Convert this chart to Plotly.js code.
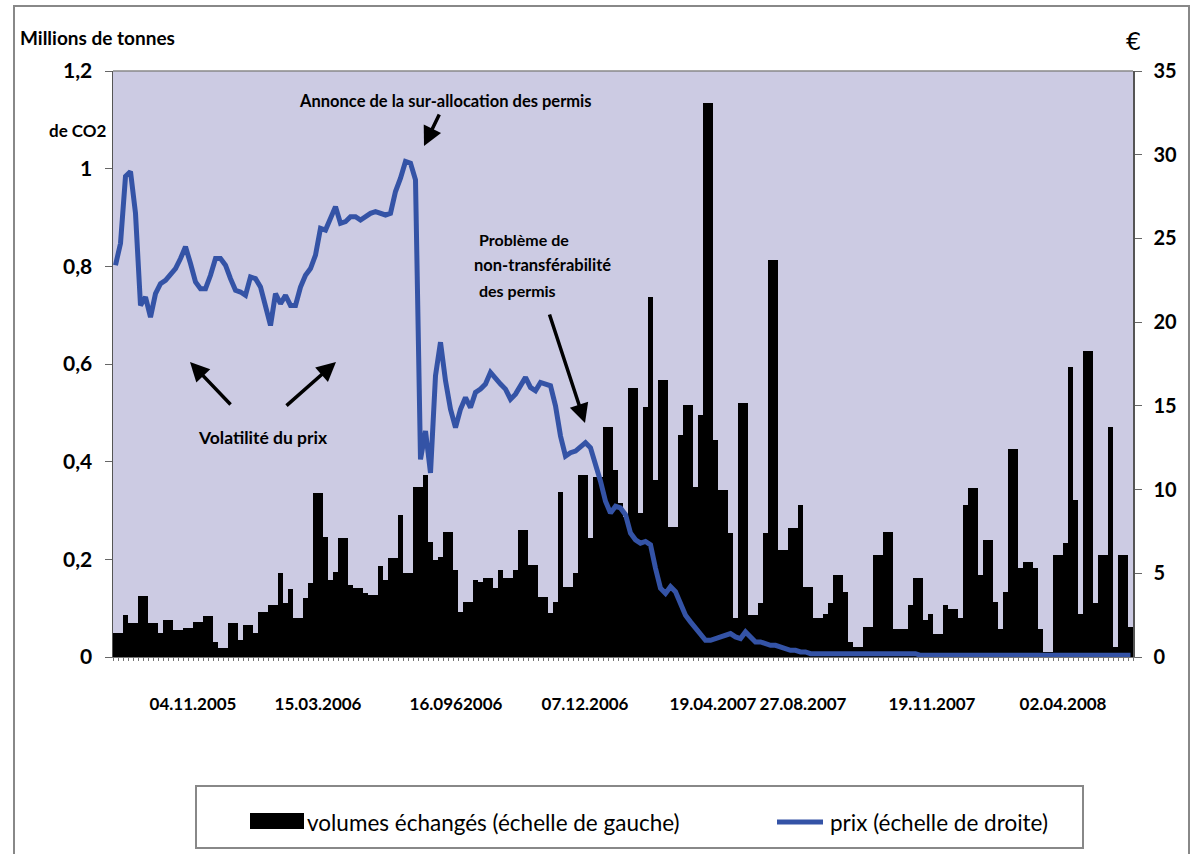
<!DOCTYPE html>
<html>
<head>
<meta charset="utf-8">
<script src="https://cdn.plot.ly/plotly-3.0.1.min.js"></script>
<style>
html,body{margin:0;padding:0;background:#fff;}
#chart{width:1191px;height:854px;}
</style>
</head>
<body>
<div id="chart"></div>
<script>
// Volumes échangés (millions de tonnes de CO2), one bar per period
const volumes = [
0.049,0.049,0.086,0.070,0.070,0.125,0.125,0.070,0.070,0.049,
0.076,0.076,0.055,0.055,0.059,0.059,0.072,0.072,0.084,0.084,
0.031,0.018,0.018,0.070,0.070,0.035,0.066,0.066,0.049,0.092,
0.092,0.106,0.106,0.172,0.110,0.139,0.080,0.080,0.120,0.152,
0.336,0.336,0.246,0.158,0.174,0.244,0.244,0.147,0.141,0.141,
0.131,0.127,0.127,0.186,0.158,0.203,0.203,0.290,0.172,0.172,
0.348,0.348,0.373,0.236,0.199,0.205,0.256,0.256,0.178,0.092,
0.113,0.113,0.158,0.154,0.162,0.162,0.141,0.178,0.162,0.162,
0.178,0.260,0.260,0.188,0.188,0.123,0.123,0.090,0.113,0.338,
0.143,0.143,0.172,0.373,0.373,0.244,0.369,0.369,0.471,0.471,
0.383,0.315,0.287,0.551,0.551,0.295,0.512,0.737,0.362,0.567,
0.567,0.266,0.266,0.455,0.516,0.516,0.348,0.496,1.135,1.135,
0.444,0.342,0.342,0.254,0.080,0.520,0.520,0.086,0.086,0.110,
0.254,0.813,0.813,0.219,0.219,0.264,0.264,0.312,0.144,0.144,
0.079,0.079,0.089,0.110,0.168,0.168,0.134,0.031,0.020,0.020,
0.062,0.062,0.209,0.209,0.257,0.257,0.058,0.058,0.058,0.106,
0.161,0.161,0.075,0.089,0.048,0.048,0.106,0.099,0.099,0.079,
0.312,0.346,0.346,0.168,0.240,0.240,0.113,0.058,0.134,0.425,
0.425,0.182,0.195,0.195,0.182,0.058,0.010,0.010,0.209,0.209,
0.233,0.593,0.322,0.089,0.627,0.627,0.110,0.209,0.209,0.470,
0.020,0.209,0.209,0.062
];

// Prix (€), same periods
const prices = [
23.4,24.7,28.7,29.0,26.5,21.0,21.5,20.3,21.7,22.3,
22.5,22.9,23.2,23.8,24.5,23.5,22.4,22.0,22.0,22.8,
23.8,23.8,23.4,22.6,21.9,21.8,21.6,22.7,22.6,22.1,
20.8,19.8,21.7,21.1,21.6,21.0,21.0,22.1,22.8,23.2,
24.0,25.6,25.5,26.3,26.9,25.9,26.0,26.3,26.3,26.1,
26.3,26.5,26.6,26.5,26.4,26.5,27.8,28.6,29.6,29.5,
28.5,11.8,13.5,11.0,16.8,18.8,16.5,14.8,13.7,14.8,
15.5,14.9,15.8,16.0,16.3,17.0,16.6,16.3,16.0,15.4,
15.7,16.2,16.7,16.1,15.9,16.4,16.3,16.2,15.0,13.2,
12.0,12.2,12.3,12.6,12.8,12.5,11.6,10.5,9.3,8.6,
9.0,8.9,8.5,7.4,7.0,6.8,6.9,6.7,5.3,4.1,
3.8,4.2,3.9,3.1,2.5,2.1,1.7,1.4,1.0,1.0,
1.1,1.2,1.3,1.4,1.2,1.1,1.5,1.2,0.9,0.9,
0.8,0.7,0.7,0.6,0.5,0.4,0.4,0.3,0.3,0.2,
0.2,0.2,0.2,0.2,0.2,0.2,0.2,0.2,0.2,0.2,
0.2,0.2,0.2,0.2,0.2,0.2,0.2,0.2,0.2,0.2,
0.2,0.1,0.1,0.1,0.1,0.1,0.1,0.1,0.1,0.1,
0.1,0.1,0.1,0.1,0.1,0.1,0.1,0.1,0.1,0.1,
0.1,0.1,0.1,0.1,0.1,0.1,0.1,0.1,0.1,0.1,
0.1,0.1,0.1,0.1,0.1,0.1,0.1,0.1,0.1,0.1,
0.1,0.1,0.1,0.1
];

// Date labels along the time axis (period index where each label sits)
const dateLabels = ["04.11.2005","15.03.2006","16.0962006","07.12.2006","19.04.2007","27.08.2007","19.11.2007","02.04.2008"];
const datePositions = [15.5, 40.5, 68.1, 93.9, 119.5, 137.5, 163.3, 189.5];

const leftTicks = [0, 0.2, 0.4, 0.6, 0.8, 1, 1.2];
const leftTickText = ["0", "0,2", "0,4", "0,6", "0,8", "1", "1,2"];
const rightTicks = [0, 5, 10, 15, 20, 25, 30, 35];

const periods = volumes.map((_, i) => i);

const FONT = "Lato, 'Liberation Sans', sans-serif";
const BLUE = "#3453a6";

const traces = [
  {
    type: "bar", x: periods, y: volumes, name: "volumes échangés (échelle de gauche)",
    marker: {color: "#000", line: {width: 0}}, yaxis: "y", hoverinfo: "skip"
  },
  {
    type: "scatter", mode: "lines", x: periods, y: prices, name: "prix (échelle de droite)",
    line: {color: BLUE, width: 5}, yaxis: "y2", hoverinfo: "skip"
  }
];

const W = 1020, H = 586, L = 113, T = 71;
const px = v => (v - L) / W;
const py = v => (T + H - v) / H;

function txt(text, x, y, size, opts) {
  return Object.assign({
    text: text, xref: "paper", yref: "paper", x: px(x), y: py(y),
    showarrow: false, font: {family: FONT, size: size, color: "#000", weight: 700},
    xanchor: "center", yanchor: "middle"
  }, opts || {});
}
function arrow(tailX, tailY, tipX, tipY) {
  return {
    text: "", xref: "paper", yref: "paper", x: px(tipX), y: py(tipY),
    ax: tailX - tipX, ay: tailY - tipY, showarrow: true,
    arrowhead: 2, arrowsize: 1.1, arrowwidth: 3.5, arrowcolor: "#000"
  };
}

const layout = {
  width: 1191, height: 854,
  margin: {l: L, r: 1191 - L - W, t: T, b: 854 - T - H, pad: 0},
  paper_bgcolor: "#fff", plot_bgcolor: "#cccbe3",
  showlegend: false, bargap: 0,
  xaxis: {
    range: [-0.5, volumes.length - 0.5], tickmode: "array",
    tickvals: datePositions, ticktext: dateLabels, ticks: "",
    ticklabelstandoff: 32,
    tickfont: {family: FONT, size: 17, color: "#000", weight: 700},
    showgrid: false, zeroline: false, showline: true, linecolor: "#777", linewidth: 1,
    minor: {tickmode: "linear", tick0: -0.5, dtick: 1, ticks: "outside", ticklen: 3, tickcolor: "#777", tickwidth: 1, showgrid: false},
    fixedrange: true
  },
  yaxis: {
    range: [0, 1.2], tickmode: "array", tickvals: leftTicks, ticktext: leftTickText,
    ticks: "outside", ticklen: 7, tickcolor: "#666", showgrid: false, zeroline: false,
    showline: true, linecolor: "#555", linewidth: 1.5,
    tickfont: {family: FONT, size: 21, color: "#000", weight: 700}, ticklabelstandoff: 8,
    fixedrange: true
  },
  yaxis2: {
    range: [0, 35], tickmode: "array", tickvals: rightTicks, overlaying: "y", side: "right",
    ticks: "outside", ticklen: 7, tickcolor: "#666", showgrid: false, zeroline: false,
    showline: true, linecolor: "#555", linewidth: 1.5,
    tickfont: {family: FONT, size: 20, color: "#000", weight: 700}, ticklabelstandoff: 8,
    fixedrange: true
  },
  shapes: [
    // outer frame
    {type: "rect", xref: "paper", yref: "paper", x0: px(14), x1: px(1189), y0: py(870), y1: py(6), line: {color: "#888", width: 2}},
    // top border of plot area
    {type: "line", xref: "paper", yref: "paper", x0: 0, x1: 1, y0: 1, y1: 1, line: {color: "#888", width: 1.5}},
    // legend box
    {type: "rect", xref: "paper", yref: "paper", x0: px(196), x1: px(1083), y0: py(848), y1: py(786), line: {color: "#888", width: 2}, fillcolor: "#fff"},
    // legend swatches
    {type: "rect", xref: "paper", yref: "paper", x0: px(250), x1: px(304), y0: py(829), y1: py(813), line: {width: 0}, fillcolor: "#000"},
    {type: "line", xref: "paper", yref: "paper", x0: px(777), x1: px(823), y0: py(822), y1: py(822), line: {color: BLUE, width: 5}}
  ],
  annotations: [
    txt("Millions de tonnes", 18, 38, 19, {xanchor: "left"}),
    txt("de CO2", 47, 130, 17, {xanchor: "left"}),
    txt("€", 1133, 42, 24, {font: {family: "'DejaVu Sans', sans-serif", size: 24, color: "#000"}}),
    txt("Annonce de la sur-allocation des permis", 445, 101, 16.5),
    txt("Problème de", 477, 240, 16, {xanchor: "left"}),
    txt("non-transférabilité", 472, 265, 16.5, {xanchor: "left"}),
    txt("des permis", 477, 290, 16, {xanchor: "left"}),
    txt("Volatilité du prix", 263, 437, 17.5),
    arrow(440, 113, 424, 146),
    arrow(549, 313, 585, 423),
    arrow(232, 406, 190, 362),
    arrow(285, 407, 336, 362),
    txt("volumes échangés (échelle de gauche)", 305, 822, 22.5, {xanchor: "left", font: {family: FONT, size: 22.5, color: "#000"}}),
    txt("prix (échelle de droite)", 828, 822, 22.5, {xanchor: "left", font: {family: FONT, size: 22.5, color: "#000"}})
  ]
};

Plotly.newPlot("chart", traces, layout, {displayModeBar: false, staticPlot: true});
</script>
</body>
</html>
